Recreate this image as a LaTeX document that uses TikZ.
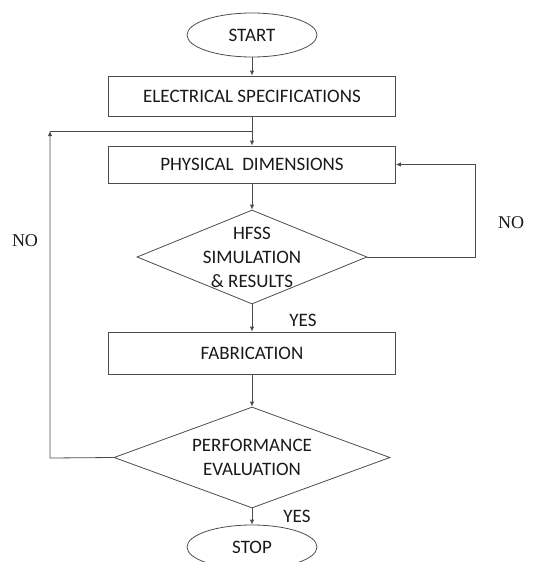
\documentclass[tikz,border=0pt]{standalone}
\usepackage{fontspec}
\setmainfont{Carlito}
\newfontfamily\nofont{Liberation Serif}
\usetikzlibrary{shapes.geometric,arrows.meta}

\begin{document}
\begin{tikzpicture}[x=1pt,y=-1pt,line width=0.8pt,
  every node/.style={text=black!90,font=\fontsize{19}{24}\selectfont},
  terminal/.style={ellipse,draw=black!70,minimum width=130pt,minimum height=44pt,inner sep=0pt},
  box/.style={rectangle,draw=black!70,minimum width=287pt,minimum height=40pt,inner sep=0pt},
  decision/.style={diamond,draw=black!70,inner sep=0pt},
  flow/.style={draw=black!70,-{Latex[length=5pt,width=4.5pt]}},
  lbl/.style={align=center},
  nolbl/.style={font=\nofont\fontsize{18}{22}\selectfont}]
  \useasboundingbox (0,0) rectangle (555,562);
  \clip (0,0) rectangle (555,562);

  \node[terminal] (start) at (252,35) {START};
  \node[box] (elec) at (252,96) {ELECTRICAL SPECIFICATIONS};
  \node[box,minimum height=37pt] (phys) at (252,164.5) {PHYSICAL\ \ DIMENSIONS};
  \node[decision,minimum width=230pt,minimum height=94pt] (hfss) at (252,257) {};
  \node[lbl] (hfsstext) at (hfss) {HFSS\\SIMULATION\\\& RESULTS};
  \node[box,minimum height=42pt] (fab) at (252,353) {FABRICATION};
  \node[decision,minimum width=276pt,minimum height=101pt] (perf) at (252,457.5) {};
  \node[lbl] (perftext) at (perf) {PERFORMANCE\\EVALUATION};
  \node[terminal] (stop) at (252,547) {STOP};

  \node (yes1) at (303,320) {YES};
  \node (yes2) at (297,516) {YES};
  \node[nolbl] (noleft) at (25,241) {NO};
  \node[nolbl] (noright) at (511,223) {NO};

  \coordinate (join) at (252,131);
  \coordinate (nobot) at (50,458);
  \coordinate (notop) at (50,131);
  \coordinate (retry) at (475,257);

  \draw[flow] (start) -- (elec);
  \draw[flow] (elec) -- (phys);
  \draw[flow] (phys) -- (hfss);
  \draw[flow] (hfss) -- (fab);
  \draw[flow] (fab) -- (perf);
  \draw[flow] (perf) -- (stop);
  \draw[flow] (hfss.east) -- (retry) |- (phys.east);
  \draw[flow] (perf.west) -- (nobot) -- (notop);
  \draw[draw=black!70] (notop) -- (join);
\end{tikzpicture}
\end{document}
